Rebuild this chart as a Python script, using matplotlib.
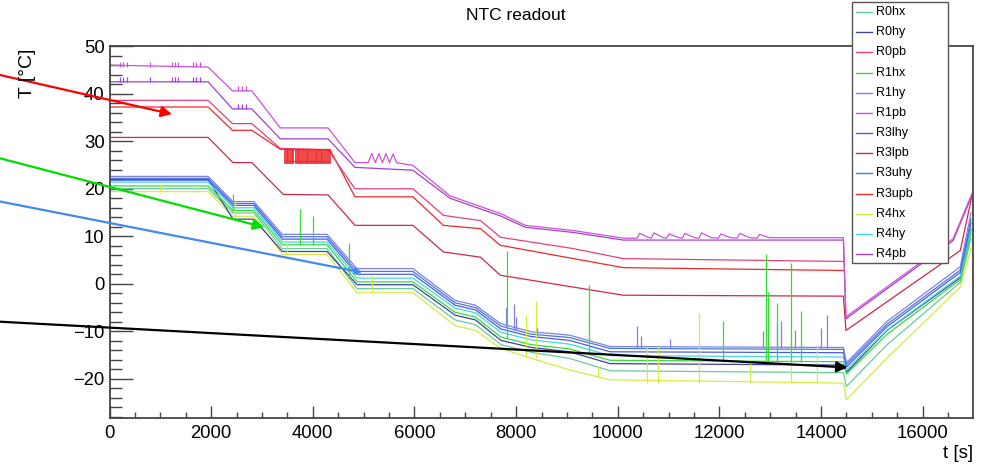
import matplotlib
matplotlib.use("Agg")
import matplotlib.pyplot as plt
from matplotlib.ticker import MultipleLocator
from matplotlib.lines import Line2D
from matplotlib.patches import Rectangle

plt.rcParams['font.family'] = ['Liberation Sans', 'DejaVu Sans']

W, H = 982, 466

# ---------------- sensor data ----------------
names = ["R0hx", "R0hy", "R0pb", "R1hx", "R1hy", "R1pb", "R3lhy",
         "R3lpb", "R3uhy", "R3upb", "R4hx", "R4hy", "R4pb"]
colors = {
    "R0hx": "#66cc99", "R0hy": "#4040a8", "R0pb": "#e8407a",
    "R1hx": "#33dd33", "R1hy": "#8080e8", "R1pb": "#d050d8",
    "R3lhy": "#4a5cf0", "R3lpb": "#d02848", "R3uhy": "#4a78d0",
    "R3upb": "#f02828", "R4hx": "#d4ec40", "R4hy": "#40d8e8",
    "R4pb": "#a040d0",
}

# hybrid sensors (hx / hy) share the same time knots [s]
hybrid_t = [0, 1940, 2430, 2840, 3400, 4280, 4870, 5970, 6800, 7200,
            7700, 8300, 9050, 9850, 14440, 14500, 15300, 16740, 16950]
R1hy = [22.6, 22.6, 17.3, 17.3, 10.4, 10.4, 3.2, 3.2, -3.5, -4.5,
        -8.4, -10.1, -10.8, -13.2, -13.4, -16.6, -7.9, 3.6, 15.0]
R3uhy = [22.2, 22.2, 16.9, 16.9, 9.9, 9.9, 2.6, 2.6, -4.0, -5.0,
         -8.9, -10.6, -11.3, -13.6, -13.8, -17.0, -8.5, 2.9, 13.6]
R3lhy = [21.8, 21.8, 16.5, 16.5, 9.4, 9.4, 2.0, 2.0, -4.5, -5.5,
         -9.5, -11.1, -11.9, -14.3, -14.5, -17.5, -9.0, 2.4, 12.8]
R4hy = [21.4, 21.4, 16.0, 16.0, 8.8, 8.8, 1.2, 1.2, -5.1, -6.1,
        -10.2, -11.8, -12.7, -15.1, -15.4, -18.1, -9.7, 1.6, 11.7]
R1hx = [20.6, 20.6, 15.4, 15.4, 8.2, 8.2, 0.4, 0.4, -6.0, -7.0,
        -11.2, -12.8, -13.7, -16.1, -16.4, -19.0, -10.6, 0.9, 10.6]
R0hy = [22.0, 22.0, 13.6, 13.6, 6.8, 6.8, -0.2, -0.2, -6.6, -7.6,
        -11.9, -13.4, -14.3, -16.8, -17.1, -18.6, -9.8, 1.3, 11.4]
R0hx = [20.0, 20.0, 14.9, 14.9, 7.4, 7.4, -1.0, -1.0, -7.6, -8.6,
        -12.8, -14.4, -15.7, -18.3, -18.7, -21.6, -12.8, 0.3, 9.5]
R4hx = [19.4, 19.4, 14.2, 14.2, 6.2, 6.2, -1.9, -1.9, -8.8, -9.8,
        -13.6, -15.7, -18.1, -20.2, -20.9, -24.4, -15.6, -0.7, 7.4]

# power-board sensors
R1pb_t = [0, 1940, 2420, 2800, 3360, 4300, 4830, 5090, 5160, 5230, 5300,
          5370, 5440, 5510, 5580, 5650, 5970, 6700, 7690, 8180, 9130, 10110,
          10380, 10430, 10620, 10660, 10710, 10900, 10960, 11010, 11200,
          11270, 11320, 11510, 11600, 11650, 11840, 11980, 12030, 12220,
          12350, 12400, 12590, 12740, 12790, 12980, 14440, 14490, 14560,
          16600, 16970]
R1pb = [46.0, 45.6, 40.6, 40.6, 32.8, 32.8, 25.5, 25.5, 27.4, 25.5, 27.4,
        25.5, 27.4, 25.5, 27.3, 25.5, 24.9, 18.5, 14.8, 12.3, 11.2, 9.6,
        9.6, 10.6, 9.7, 9.6, 10.7, 9.7, 9.6, 10.5, 9.7,
        9.6, 10.6, 9.7, 9.6, 10.7, 9.7, 9.6, 10.5, 9.7,
        9.6, 10.6, 9.7, 9.6, 10.4, 9.7, 9.7, -7.0, -6.4,
        9.5, 19.0]
R4pb_t = [0, 1940, 2420, 2800, 3360, 4300, 4830, 5970, 6700, 7690, 8180,
          9130, 10110, 14440, 14490, 14560, 16600, 16970]
R4pb = [42.5, 42.5, 36.8, 36.8, 30.5, 30.5, 24.5, 23.9, 18.0, 14.3, 11.9,
        10.8, 9.2, 9.2, -7.4, -6.8, 9.1, 18.6]
R0pb_t = [0, 1940, 2420, 2800, 3360, 4300, 4830, 5970, 6570, 7300, 7690,
          9130, 10110, 14440]
R0pb = [38.6, 38.6, 33.7, 33.7, 28.5, 28.2, 20.0, 20.0, 14.4, 13.3, 9.8,
        7.4, 5.3, 4.7]
R3upb_t = [0, 1940, 2420, 2800, 3360, 4340, 4830, 5970, 6570, 7300, 7690,
           9130, 10110, 14440]
R3upb = [37.2, 37.2, 32.3, 32.3, 28.3, 28.2, 18.3, 18.3, 12.3, 11.6, 8.1,
         5.3, 3.4, 2.8]
R3lpb_t = [0, 1940, 2430, 2800, 3420, 4300, 4830, 5970, 6570, 7300, 7690,
           9130, 10110, 14440, 14490, 14560, 16740, 16970]
R3lpb = [30.8, 30.8, 25.5, 25.5, 18.8, 18.7, 12.3, 12.3, 6.7, 5.6, 1.8,
         -0.7, -2.4, -2.6, -9.8, -9.3, 7.0, 18.5]

# readout glitches (spikes): time, base and peak temperature
R1hx_spk_t = [2430, 3750, 4000, 4710, 7830, 9440, 12075, 12925, 12960,
              13140, 13400, 13610]
R1hx_spk_lo = [15.4, 8.2, 8.2, 1.0, -11.5, -14.5, -16.4, -16.4, -16.4,
               -16.4, -16.4, -16.4]
R1hx_spk_hi = [19.0, 15.8, 14.3, 8.5, 7.0, -0.3, -7.9, 6.2, -1.7,
               -4.1, 4.4, -5.8]
R1hy_spk_t = [7810, 7960, 8000, 8410, 10380, 10460, 11030, 12860, 13140,
              13220, 13480, 13990, 14120]
R1hy_spk_lo = [-9.3, -9.7, -9.8, -10.7, -13.6, -13.6, -13.6, -13.6, -13.6,
               -13.6, -13.6, -13.6, -13.6]
R1hy_spk_hi = [-5.1, -4.2, -7.0, -9.3, -8.9, -11.0, -11.6, -10.0, -8.2,
               -7.8, -9.7, -9.3, -6.6]
R4hx_spk_t = [990, 1720, 2470, 3490, 5170, 8200, 8400, 9620, 10580, 10800,
              11590, 12610, 13400, 13930]
R4hx_spk_lo = [19.4, 19.4, 14.2, 6.2, -1.9, -15.3, -15.7, -19.9, -20.9,
               -20.9, -20.9, -20.9, -20.9, -20.9]
R4hx_spk_hi = [21.1, 20.9, 17.3, 8.8, 1.8, -6.6, -3.6, -17.4, -13.2,
               -13.2, -6.2, -16.0, -11.1, -13.2]
pb_spk_t = [200, 270, 340, 800, 1230, 1290, 1350, 1650, 1710, 1780,
            2520, 2600, 2680]
R1pb_spk_lo = [45.6, 45.6, 45.6, 45.6, 45.6, 45.6, 45.6, 45.6, 45.6, 45.6,
               40.6, 40.6, 40.6]
R4pb_spk_lo = [42.5, 42.5, 42.5, 42.5, 42.5, 42.5, 42.5, 42.5, 42.5, 42.5,
               36.8, 36.8, 36.8]
pb_spk_height = 1.0
R3upb_comb_t = [3460, 3490, 3520, 3560, 3590, 3620, 3660, 3700, 3730, 3770,
                3800, 3840, 3880, 3910, 3950, 3980, 4020, 4060, 4090, 4120,
                4160, 4190, 4230, 4260, 4300, 4330]
R3upb_comb_lo = 25.3
R3upb_comb_hi = 28.3

# ---------------- figure ----------------
fig = plt.figure(figsize=(W / 100, H / 100), dpi=100)
ax = fig.add_axes([109.5 / W, 1 - 418.3 / H, (972.7 - 109.5) / W,
                   (418.3 - 45.7) / H])

lw = 0.9
series = {
    "R4hx": (hybrid_t, R4hx), "R0hx": (hybrid_t, R0hx),
    "R0hy": (hybrid_t, R0hy), "R1hx": (hybrid_t, R1hx),
    "R4hy": (hybrid_t, R4hy), "R3lhy": (hybrid_t, R3lhy),
    "R3uhy": (hybrid_t, R3uhy), "R1hy": (hybrid_t, R1hy),
    "R3lpb": (R3lpb_t, R3lpb), "R3upb": (R3upb_t, R3upb),
    "R0pb": (R0pb_t, R0pb), "R4pb": (R4pb_t, R4pb),
    "R1pb": (R1pb_t, R1pb),
}
for name, (t, v) in series.items():
    ax.plot(t, v, color=colors[name], lw=lw)

ax.vlines(R4hx_spk_t, R4hx_spk_lo, R4hx_spk_hi, colors=colors["R4hx"], lw=lw)
ax.vlines(R1hy_spk_t, R1hy_spk_lo, R1hy_spk_hi, colors=colors["R1hy"], lw=lw)
ax.vlines(R1hx_spk_t, R1hx_spk_lo, R1hx_spk_hi, colors=colors["R1hx"], lw=lw)
ax.vlines(pb_spk_t, R1pb_spk_lo, [v + pb_spk_height for v in R1pb_spk_lo],
          colors=colors["R1pb"], lw=lw)
ax.vlines(pb_spk_t, R4pb_spk_lo, [v + pb_spk_height for v in R4pb_spk_lo],
          colors=colors["R4pb"], lw=lw)
ax.vlines(R3upb_comb_t, R3upb_comb_lo, R3upb_comb_hi,
          colors=colors["R3upb"], lw=1.2)
ax.hlines([R3upb_comb_hi, R3upb_comb_lo + 0.6], R3upb_comb_t[0],
          R3upb_comb_t[-1], colors=colors["R3upb"], lw=lw)

ax.set_xlim(0, 16984)
ax.set_ylim(-28.3, 50.1)

# ROOT-like frame and ticks
frame_col = "#444444"
for sp in ax.spines.values():
    sp.set_color(frame_col)
    sp.set_linewidth(1.3)
ax.xaxis.set_major_locator(MultipleLocator(2000))
ax.xaxis.set_minor_locator(MultipleLocator(500))
ax.yaxis.set_major_locator(MultipleLocator(10))
ax.yaxis.set_minor_locator(MultipleLocator(2))
ax.tick_params(axis="both", which="both", direction="in", colors=frame_col,
               width=1.0, labelcolor="black", labelsize=13.3)
ax.tick_params(axis="x", which="major", length=8.9, pad=5)
ax.tick_params(axis="x", which="minor", length=4.5)
ax.tick_params(axis="y", which="major", length=16.8, pad=3.6)
ax.tick_params(axis="y", which="minor", length=8.4)
ax.set_yticklabels([f"{int(v)}".replace("-", "\u2212") for v in ax.get_yticks()])


def px(x, y):
    return (x / W, 1 - y / H)


fig.text(*px(516, 15), "NTC readout", ha="center", va="center", fontsize=12.5)
fig.text(*px(28, 49), "T [\u00b0C]", rotation=90, ha="center", va="top",
         fontsize=14)
fig.text(*px(973, 445), "t [s]", ha="right", va="top", fontsize=13.5)

# annotation arrows pointing at the curves
arrows = [
    ((1230, 35.7), 75.0, "#ff0000", 16),
    ((3041, 11.9), 158.3, "#00dd00", 16),
    ((4970, 2.4), 201.5, "#4488ee", 9),
    ((14520, -17.6), 321.7, "#000000", 16),
]
for (xt, yt), ypix, col, ms in arrows:
    ax.annotate("", xy=(xt, yt), xycoords="data",
                xytext=px(0, ypix), textcoords="figure fraction",
                arrowprops=dict(arrowstyle="-|>", color=col, lw=1.6,
                                mutation_scale=ms, shrinkA=0, shrinkB=0),
                annotation_clip=False, zorder=5)

# legend box
lx0, ly0, lx1, ly1 = 852, 2, 948, 263
fig.add_artist(Rectangle(px(lx0, ly1), (lx1 - lx0) / W, (ly1 - ly0) / H,
                         transform=fig.transFigure, facecolor="white",
                         edgecolor="#555555", lw=1.0, zorder=10))
for i, name in enumerate(names):
    yy = 12 + 20.17 * i
    fig.add_artist(Line2D([856 / W, 872 / W], [1 - yy / H, 1 - yy / H],
                          transform=fig.transFigure, color=colors[name],
                          lw=1.0, zorder=11))
    fig.text(876 / W, 1 - yy / H, name, ha="left", va="center", fontsize=9,
             zorder=11)

fig.savefig("out.png", dpi=100)
